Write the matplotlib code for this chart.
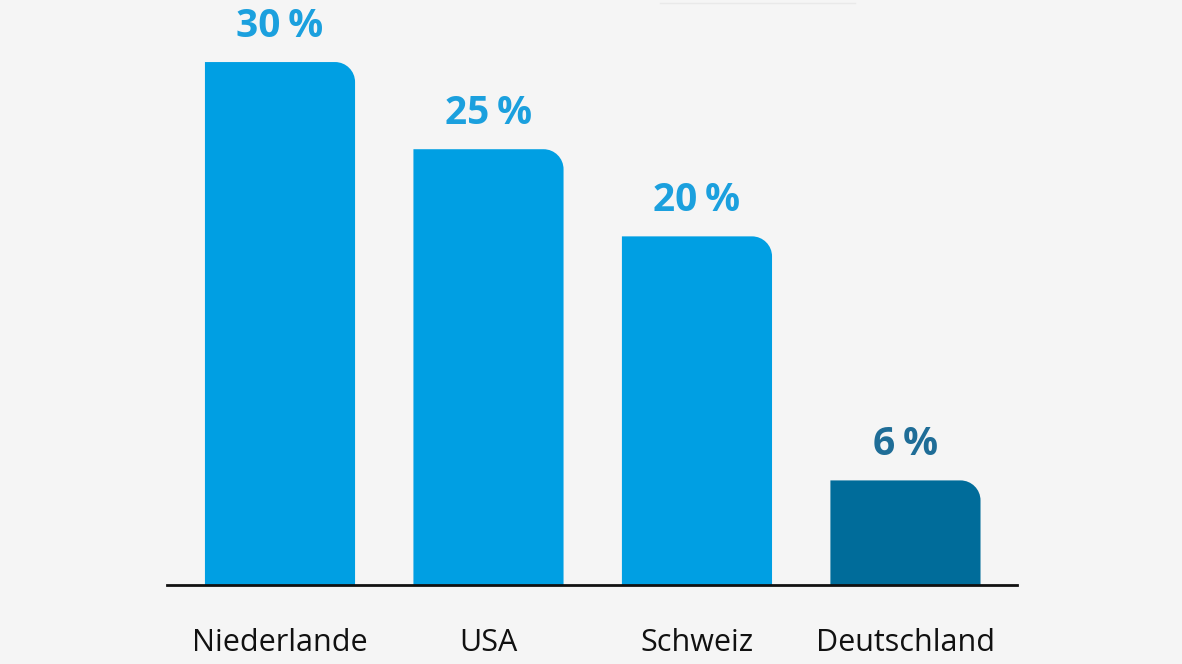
import matplotlib.pyplot as plt
from matplotlib.path import Path
from matplotlib.patches import PathPatch

countries = ["Niederlande", "USA", "Schweiz", "Deutschland"]
shares = [30, 25, 20, 6]
labels = ["30\u2009%", "25\u2009%", "20\u2009%", "6\u2009%"]
bar_colors = ["#009FE3", "#009FE3", "#009FE3", "#006C9A"]
text_colors = ["#1BA0DE", "#1BA0DE", "#1BA0DE", "#1F6D97"]

plt.rcParams["font.family"] = ["Open Sans", "DejaVu Sans"]

fig = plt.figure(figsize=(11.82, 6.64), dpi=100, facecolor="#F5F5F5")
ax = fig.add_axes([167 / 1182, 79 / 664, 850 / 1182, 585 / 664])
ax.set_facecolor("#F5F5F5")

x = range(len(countries))
bars = ax.bar(x, shares, width=0.72, color=bar_colors)
ax.set_xlim(-0.542, 3.535)
ax.set_ylim(0, 33.56)
fig.canvas.draw()

# replace plain rectangles with ones rounded at the top right corner
rad_px = 20
inv = ax.transData.inverted()
x0d, y0d = inv.transform((0, 0))
x1d, y1d = inv.transform((rad_px, rad_px))
rx, ry = x1d - x0d, y1d - y0d
k = 0.5523
for b, c in zip(bars, bar_colors):
    l, btm, w, h = b.get_x(), b.get_y(), b.get_width(), b.get_height()
    r, t = l + w, btm + h
    verts = [(l, btm), (l, t), (r - rx, t),
             (r - rx + k * rx, t), (r, t - ry + k * ry), (r, t - ry),
             (r, btm), (l, btm)]
    codes = [Path.MOVETO, Path.LINETO, Path.LINETO,
             Path.CURVE4, Path.CURVE4, Path.CURVE4,
             Path.LINETO, Path.CLOSEPOLY]
    b.set_visible(False)
    ax.add_patch(PathPatch(Path(verts, codes), facecolor=c, edgecolor="none"))

for i, (v, lab, tc) in enumerate(zip(shares, labels, text_colors)):
    ax.annotate(lab, (i, v), xytext=(0, 18), textcoords="offset points",
                ha="center", va="baseline", fontsize=28, fontweight="bold",
                color=tc)

for s in ["top", "right", "left"]:
    ax.spines[s].set_visible(False)
ax.spines["bottom"].set_linewidth(2)
ax.spines["bottom"].set_color("#111111")
ax.set_yticks([])
ax.set_xticks(list(x))
ax.set_xticklabels(countries, fontsize=22, color="#111111")
ax.tick_params(axis="x", length=0, pad=31)

# faint line at the top edge
fig.add_artist(plt.Line2D([660 / 1182, 855 / 1182], [661 / 664, 661 / 664],
                          color="#E9E9E9", lw=1))

fig.savefig("out.png", dpi=100, facecolor=fig.get_facecolor())
